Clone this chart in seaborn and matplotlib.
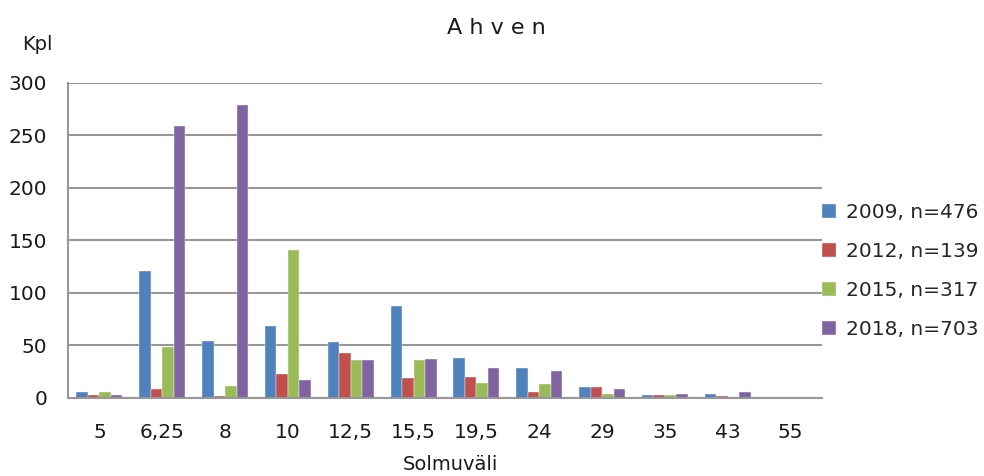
import matplotlib
matplotlib.use("Agg")
import matplotlib.pyplot as plt
import seaborn as sns
import pandas as pd

categories = ["5", "6,25", "8", "10", "12,5", "15,5", "19,5", "24", "29", "35", "43", "55"]
series_names = ["2009, n=476", "2012, n=139", "2015, n=317", "2018, n=703"]
v2009 = [5, 121, 54, 68, 53, 87, 38, 28, 10, 2.5, 3.5, 0]
v2012 = [2.5, 8, 1, 22, 42, 19, 20, 5, 10, 2.5, 1, 0]
v2015 = [5, 48, 11, 141, 36, 36, 14, 13, 3, 2.5, 0, 0]
v2018 = [2.5, 259, 279, 17, 36, 37, 28, 25, 8, 3.5, 5, 0]
colors = ["#4F81BD", "#C0504D", "#9BBB59", "#8064A2"]
yticks = [0, 50, 100, 150, 200, 250, 300]

rows = []
for name, vals in zip(series_names, [v2009, v2012, v2015, v2018]):
    for c, v in zip(categories, vals):
        rows.append({"Solmuväli": c, "Kpl": v, "Sarja": name})
df = pd.DataFrame(rows)

sns.set_theme(style="white")
plt.rcParams["font.family"] = ["DejaVu Sans"]

fig = plt.figure(figsize=(9.84, 4.76), dpi=100)
ax = fig.add_axes([68/984, 1-397.5/476, (822-68)/984, (397.5-82.7)/476])

sns.barplot(data=df, x="Solmuväli", y="Kpl", hue="Sarja", order=categories,
            hue_order=series_names, palette=colors, saturation=1, width=0.73,
            edgecolor="#f4f4f4", linewidth=0.3, ax=ax, legend=True)

grid_c = "#979797"
ax.set_ylim(0, 300)
ax.set_yticks(yticks)
ax.set_yticklabels([str(t) for t in yticks], fontsize=14.5, color="#1a1a1a")
ax.set_xlim(-0.5, len(categories) - 0.5)
ax.tick_params(axis="x", length=0, labelsize=14.5, pad=18, colors="#1a1a1a")
ax.tick_params(axis="y", length=5, width=1.5, color=grid_c, pad=10)
ax.yaxis.grid(True, color=grid_c, linewidth=1.5)
ax.set_axisbelow(True)
for s in ["top", "right"]:
    ax.spines[s].set_visible(False)
for s in ["left", "bottom"]:
    ax.spines[s].set_color(grid_c)
    ax.spines[s].set_linewidth(1.5)
ax.set_xlabel("")
ax.set_ylabel("")

fig.text(450/984, 1-465/476, "Solmuväli", ha="center", va="center", fontsize=14, color="#1a1a1a")
fig.text(37/984, 1-45/476, "Kpl", ha="center", va="center", fontsize=14, color="#1a1a1a")
fig.text(496/984, 1-28/476, "A h v e n", ha="center", va="center", fontsize=16, color="#1a1a1a")

handles, labels = ax.get_legend_handles_labels()
ax.get_legend().remove()
fig.legend(handles, labels, loc="center left", bbox_to_anchor=(822/984, 1-271/476),
           frameon=False, fontsize=14.5, handlelength=0.7, handleheight=0.7,
           handletextpad=0.5, labelspacing=1.0, borderpad=0, borderaxespad=0)

fig.savefig("out.png", dpi=100)
